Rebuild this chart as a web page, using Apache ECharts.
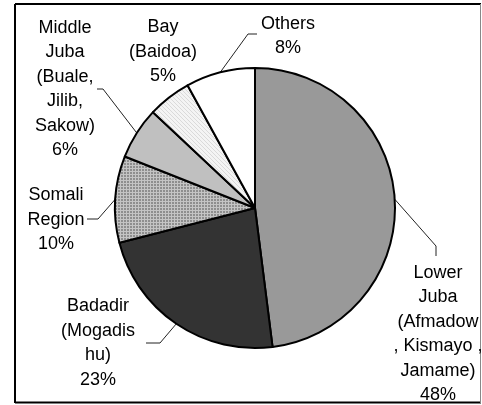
<!DOCTYPE html>
<html>
<head>
<meta charset="utf-8">
<script src="https://cdn.jsdelivr.net/npm/echarts@6/dist/echarts.min.js"></script>
<style>
  html, body { margin: 0; padding: 0; background: #fff; }
  #chart { width: 482px; height: 405px; }
</style>
</head>
<body>
<div id="chart"></div>
<script>
// data (share of total, %)
var regions = [
  'Lower\nJuba\n(Afmadow\n, Kismayo ,\nJamame)',
  'Badadir\n(Mogadis\nhu)',
  'Somali\nRegion',
  'Middle\nJuba\n(Buale,\nJilib,\nSakow)',
  'Bay\n(Baidoa)',
  'Others'
];
var shares = [48, 23, 10, 6, 5, 8];

// layout / style
var center = [255, 208];
var radius = 140;
var labelCenters = [[438, 334], [98, 343], [56, 220], [65, 89], [163, 52], [288, 36]];
// bend + end of each leader line (null = no leader)
var leaders = [
  [[436, 246], [436, 256]],
  [[160, 343], [146, 343]],
  [[98, 219], [87, 219]],
  [[103, 89], [97, 89]],
  null,
  [[248, 34], [257, 34]]
];

function makePattern(w, h, draw) {
  var c = document.createElement('canvas');
  c.width = w; c.height = h;
  draw(c.getContext('2d'));
  return { image: c, repeat: 'repeat' };
}

var gridPattern = makePattern(3, 3, function (ctx) {
  ctx.fillStyle = '#8e8e8e';
  ctx.fillRect(0, 0, 3, 3);
  ctx.fillStyle = '#c4c4c4';
  ctx.fillRect(0, 0, 3, 1);
  ctx.fillRect(0, 0, 1, 3);
});
var dotPattern = makePattern(4, 4, function (ctx) {
  ctx.fillStyle = '#f4f4f4';
  ctx.fillRect(0, 0, 4, 4);
  ctx.fillStyle = '#dadada';
  ctx.fillRect(0, 0, 1, 1);
  ctx.fillRect(1, 1, 1, 1);
  ctx.fillRect(2, 2, 1, 1);
  ctx.fillRect(3, 3, 1, 1);
});
var fills = ['#999999', '#333333', gridPattern, '#c0c0c0', dotPattern, '#ffffff'];

// mid-angle point on the rim for each slice
var total = shares.reduce(function (a, b) { return a + b; }, 0);
var rimPoints = [];
var acc = 0;
shares.forEach(function (v) {
  var a = (acc + v / 2) / total * Math.PI * 2;
  rimPoints.push([center[0] + radius * Math.sin(a), center[1] - radius * Math.cos(a)]);
  acc += v;
});

var myChart = echarts.init(document.getElementById('chart'));

var option = {
  animation: false,
  graphic: [
    { type: 'line', shape: { x1: 15, y1: 4, x2: 481, y2: 4 }, style: { stroke: '#000', lineWidth: 2 } },
    { type: 'line', shape: { x1: 15, y1: 4, x2: 15, y2: 403 }, style: { stroke: '#000', lineWidth: 2 } },
    { type: 'line', shape: { x1: 15, y1: 402.5, x2: 481, y2: 402.5 }, style: { stroke: '#000', lineWidth: 2 } },
    { type: 'line', shape: { x1: 480.5, y1: 4, x2: 480.5, y2: 403 }, style: { stroke: '#888', lineWidth: 1 } }
  ],
  series: [
    {
      type: 'pie',
      center: center,
      radius: radius,
      startAngle: 90,
      clockwise: true,
      avoidLabelOverlap: false,
      itemStyle: {
        borderColor: '#000',
        borderWidth: 2
      },
      label: {
        show: true,
        position: 'outside',
        color: '#000',
        fontFamily: 'Liberation Sans, Arial, sans-serif',
        fontSize: 18,
        lineHeight: 24.5,
        align: 'center',
        formatter: function (p) {
          return p.name + '\n' + p.value + '%';
        }
      },
      labelLine: {
        show: true,
        lineStyle: { color: '#222', width: 1 }
      },
      labelLayout: function (params) {
        var i = params.dataIndex;
        var out = {
          x: labelCenters[i][0],
          y: labelCenters[i][1],
          align: 'center',
          verticalAlign: 'middle'
        };
        if (leaders[i]) {
          out.labelLinePoints = [rimPoints[i], leaders[i][0], leaders[i][1]];
        }
        return out;
      },
      emphasis: { disabled: true },
      data: regions.map(function (name, i) {
        var d = {
          name: name,
          value: shares[i],
          itemStyle: { color: fills[i] }
        };
        if (!leaders[i]) d.labelLine = { show: false };
        return d;
      })
    }
  ]
};

option && myChart.setOption(option);
</script>
</body>
</html>
